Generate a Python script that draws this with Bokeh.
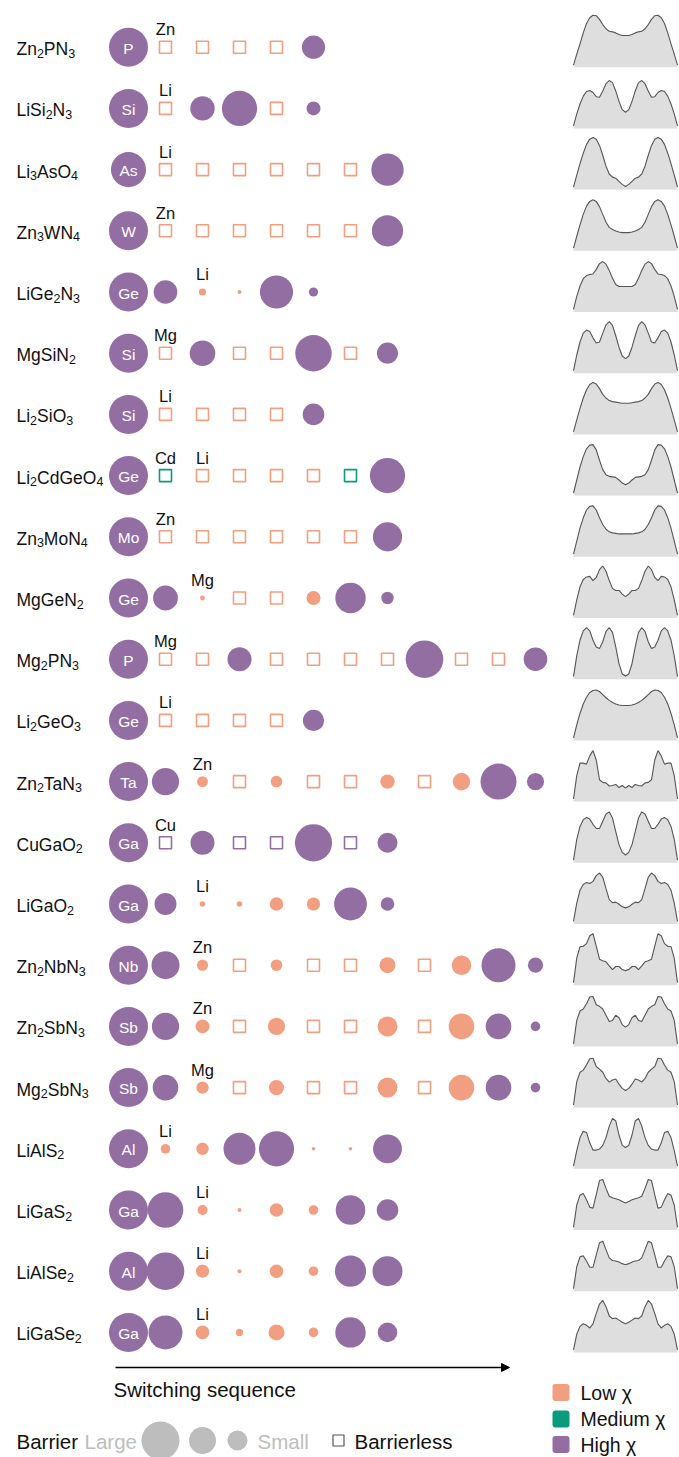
import re

from bokeh.plotting import figure
from bokeh.models import Range1d, Arrow, NormalHead
from bokeh.core.properties import value
from bokeh.embed import file_html
from bokeh.resources import INLINE

# ---------------------------------------------------------------- data
compounds = ["Zn2PN3", "LiSi2N3", "Li3AsO4", "Zn3WN4", "LiGe2N3", "MgSiN2",
             "Li2SiO3", "Li2CdGeO4", "Zn3MoN4", "MgGeN2", "Mg2PN3", "Li2GeO3",
             "Zn2TaN3", "CuGaO2", "LiGaO2", "Zn2NbN3", "Zn2SbN3", "Mg2SbN3",
             "LiAlS2", "LiGaS2", "LiAlSe2", "LiGaSe2"]
centers = ["P", "Si", "As", "W", "Ge", "Si", "Si", "Ge", "Mo", "Ge", "P", "Ge",
           "Ta", "Ga", "Ga", "Nb", "Sb", "Sb", "Al", "Ga", "Al", "Ga"]
center_scale = [1.0, 1.0, 0.9, 1.0, 1.0, 1.0, 1.0, 1.0, 1.0, 1.0, 1.0, 1.0,
                1.0, 1.0, 1.0, 1.0, 1.0, 1.0, 1.0, 1.0, 1.0, 1.0]

# electronegativity class of each switching step: L = low, M = medium, H = high
chi = ["LLLLH", "LHHLH", "LLLLLLH", "LLLLLLH", "HLLHH", "LHLLHLH", "LLLLH",
       "MLLLLMH", "LLLLLLH", "HLLLLHH", "LLHLLLLHLLH", "LLLLH",
       "HLLLLLLLLHH", "HHHHHHH", "HLLLLHH", "HLLLLLLLLHH", "HLLLLLLLLHH",
       "HLLLLLLLLHH", "LLHHLLH", "HLLLLHH", "HLLLLHH", "HLLLLHH"]
# barrier of each step (0 = barrierless)
barrier = [
    [0, 0, 0, 0, 0.58],
    [0, 0.61, 0.88, 0, 0.35],
    [0, 0, 0, 0, 0, 0, 0.81],
    [0, 0, 0, 0, 0, 0, 0.78],
    [0.59, 0.18, 0.10, 0.83, 0.23],
    [0, 0.64, 0, 0, 0.91, 0, 0.53],
    [0, 0, 0, 0, 0.54],
    [0, 0, 0, 0, 0, 0, 0.88],
    [0, 0, 0, 0, 0, 0, 0.73],
    [0.62, 0.12, 0, 0, 0.35, 0.76, 0.31],
    [0, 0, 0.60, 0, 0, 0, 0, 0.94, 0, 0, 0.59],
    [0, 0, 0, 0, 0.53],
    [0.68, 0.27, 0, 0.29, 0, 0, 0.36, 0, 0.44, 0.90, 0.43],
    [0, 0.60, 0, 0, 0.93, 0, 0.50],
    [0.55, 0.14, 0.14, 0.34, 0.33, 0.82, 0.34],
    [0.70, 0.28, 0, 0.29, 0, 0, 0.40, 0, 0.49, 0.85, 0.38],
    [0.68, 0.35, 0, 0.43, 0, 0, 0.50, 0, 0.64, 0.64, 0.24],
    [0.64, 0.31, 0, 0.38, 0, 0, 0.50, 0, 0.64, 0.64, 0.24],
    [0.24, 0.31, 0.80, 0.88, 0.09, 0.09, 0.72],
    [0.89, 0.25, 0.10, 0.34, 0.24, 0.74, 0.54],
    [0.94, 0.33, 0.10, 0.34, 0.24, 0.78, 0.75],
    [0.85, 0.34, 0.18, 0.40, 0.24, 0.76, 0.49],
]
# first switching step of each cation species
label_row = [0, 1, 2, 3, 4, 5, 6, 7, 7, 8, 9, 10, 11, 12, 13, 14, 15, 16, 17,
             18, 19, 20, 21]
label_step = [1, 1, 1, 1, 2, 1, 1, 1, 2, 1, 2, 1, 1, 2, 1, 2, 2, 2, 2, 1, 2,
              2, 2]
label_text = ["Zn", "Li", "Li", "Zn", "Li", "Mg", "Li", "Cd", "Li", "Zn", "Mg",
              "Mg", "Li", "Zn", "Cu", "Li", "Zn", "Zn", "Mg", "Li", "Li", "Li",
              "Li"]

# energy profile along the switching path (relative height)
profiles = [
    [0.04, 0.25, 0.45, 0.66, 0.84, 0.95, 1.0, 0.99, 0.92, 0.82, 0.74, 0.69, 0.68, 0.66, 0.63, 0.61, 0.61, 0.61, 0.63, 0.66, 0.68, 0.69, 0.74, 0.82, 0.92, 0.99, 1.0, 0.95, 0.84, 0.66, 0.45, 0.25, 0.04],
    [0.05, 0.28, 0.47, 0.62, 0.71, 0.73, 0.69, 0.61, 0.60, 0.72, 0.86, 0.92, 0.88, 0.72, 0.52, 0.36, 0.31, 0.36, 0.52, 0.72, 0.88, 0.92, 0.86, 0.72, 0.60, 0.61, 0.69, 0.73, 0.71, 0.62, 0.47, 0.28, 0.05],
    [0.05, 0.28, 0.50, 0.70, 0.87, 0.97, 1.0, 0.97, 0.85, 0.66, 0.45, 0.30, 0.24, 0.22, 0.16, 0.10, 0.06, 0.10, 0.16, 0.22, 0.24, 0.30, 0.45, 0.66, 0.85, 0.97, 1.0, 0.97, 0.87, 0.70, 0.50, 0.28, 0.05],
    [0.05, 0.28, 0.50, 0.70, 0.86, 0.95, 0.98, 0.95, 0.85, 0.70, 0.55, 0.45, 0.41, 0.38, 0.36, 0.35, 0.35, 0.35, 0.36, 0.38, 0.41, 0.45, 0.55, 0.70, 0.85, 0.95, 0.98, 0.95, 0.86, 0.70, 0.50, 0.28, 0.05],
    [0.05, 0.30, 0.50, 0.64, 0.70, 0.72, 0.73, 0.82, 0.93, 0.97, 0.92, 0.80, 0.65, 0.53, 0.49, 0.49, 0.49, 0.49, 0.49, 0.53, 0.65, 0.80, 0.92, 0.97, 0.93, 0.82, 0.73, 0.72, 0.70, 0.64, 0.50, 0.30, 0.05],
    [0.05, 0.35, 0.60, 0.77, 0.83, 0.80, 0.68, 0.58, 0.60, 0.77, 0.93, 0.99, 0.92, 0.72, 0.50, 0.33, 0.28, 0.33, 0.50, 0.72, 0.92, 0.99, 0.93, 0.77, 0.60, 0.58, 0.68, 0.80, 0.83, 0.77, 0.60, 0.35, 0.05],
    [0.05, 0.28, 0.50, 0.70, 0.86, 0.96, 1.0, 0.97, 0.88, 0.77, 0.70, 0.65, 0.63, 0.62, 0.61, 0.60, 0.60, 0.60, 0.61, 0.62, 0.63, 0.65, 0.70, 0.77, 0.88, 0.97, 1.0, 0.96, 0.86, 0.70, 0.50, 0.28, 0.05],
    [0.05, 0.30, 0.55, 0.75, 0.90, 0.97, 0.98, 0.88, 0.68, 0.50, 0.40, 0.37, 0.36, 0.35, 0.30, 0.24, 0.21, 0.24, 0.30, 0.35, 0.36, 0.37, 0.40, 0.50, 0.68, 0.88, 0.98, 0.97, 0.90, 0.75, 0.55, 0.30, 0.05],
    [0.05, 0.30, 0.55, 0.75, 0.90, 0.97, 0.98, 0.90, 0.75, 0.62, 0.53, 0.48, 0.46, 0.45, 0.44, 0.44, 0.44, 0.44, 0.44, 0.45, 0.46, 0.48, 0.53, 0.62, 0.75, 0.90, 0.98, 0.97, 0.90, 0.75, 0.55, 0.30, 0.05],
    [0.05, 0.35, 0.60, 0.74, 0.79, 0.80, 0.72, 0.78, 0.93, 1.0, 0.90, 0.72, 0.57, 0.53, 0.53, 0.46, 0.41, 0.46, 0.53, 0.53, 0.57, 0.72, 0.90, 1.0, 0.93, 0.78, 0.72, 0.80, 0.79, 0.74, 0.60, 0.35, 0.05],
    [0.05, 0.45, 0.75, 0.93, 0.99, 0.93, 0.75, 0.62, 0.59, 0.72, 0.92, 0.99, 0.90, 0.62, 0.30, 0.10, 0.06, 0.10, 0.30, 0.62, 0.90, 0.99, 0.92, 0.72, 0.59, 0.62, 0.75, 0.93, 0.99, 0.93, 0.75, 0.45, 0.05],
    [0.05, 0.30, 0.52, 0.70, 0.83, 0.92, 0.96, 0.97, 0.94, 0.88, 0.82, 0.77, 0.73, 0.70, 0.68, 0.67, 0.67, 0.67, 0.68, 0.70, 0.73, 0.77, 0.82, 0.88, 0.94, 0.97, 0.96, 0.92, 0.83, 0.70, 0.52, 0.30, 0.05],
    [0.05, 0.50, 0.74, 0.74, 0.72, 0.88, 0.98, 0.80, 0.42, 0.37, 0.36, 0.30, 0.31, 0.33, 0.27, 0.31, 0.26, 0.31, 0.27, 0.33, 0.31, 0.30, 0.36, 0.37, 0.42, 0.80, 0.98, 0.88, 0.72, 0.74, 0.74, 0.50, 0.05],
    [0.05, 0.45, 0.70, 0.83, 0.87, 0.84, 0.74, 0.66, 0.66, 0.80, 0.94, 0.98, 0.86, 0.60, 0.35, 0.20, 0.15, 0.20, 0.35, 0.60, 0.86, 0.98, 0.94, 0.80, 0.66, 0.66, 0.74, 0.84, 0.87, 0.83, 0.70, 0.45, 0.05],
    [0.05, 0.40, 0.65, 0.76, 0.80, 0.78, 0.82, 0.93, 0.98, 0.90, 0.68, 0.47, 0.41, 0.42, 0.38, 0.33, 0.31, 0.33, 0.38, 0.42, 0.41, 0.47, 0.68, 0.90, 0.98, 0.93, 0.82, 0.78, 0.80, 0.76, 0.65, 0.40, 0.05],
    [0.05, 0.52, 0.74, 0.75, 0.80, 0.95, 0.99, 0.75, 0.50, 0.47, 0.45, 0.37, 0.30, 0.36, 0.36, 0.30, 0.28, 0.30, 0.36, 0.36, 0.30, 0.37, 0.45, 0.47, 0.50, 0.75, 0.99, 0.95, 0.80, 0.75, 0.74, 0.52, 0.05],
    [0.05, 0.50, 0.68, 0.72, 0.82, 0.95, 0.96, 0.80, 0.77, 0.72, 0.60, 0.48, 0.50, 0.60, 0.55, 0.42, 0.37, 0.42, 0.55, 0.60, 0.50, 0.48, 0.60, 0.72, 0.77, 0.80, 0.96, 0.95, 0.82, 0.72, 0.68, 0.50, 0.05],
    [0.05, 0.50, 0.68, 0.72, 0.82, 0.94, 0.95, 0.79, 0.74, 0.68, 0.56, 0.49, 0.53, 0.55, 0.45, 0.37, 0.33, 0.37, 0.45, 0.55, 0.53, 0.49, 0.56, 0.68, 0.74, 0.79, 0.95, 0.94, 0.82, 0.72, 0.68, 0.50, 0.05],
    [0.05, 0.35, 0.60, 0.72, 0.70, 0.50, 0.36, 0.36, 0.38, 0.45, 0.60, 0.82, 0.97, 0.92, 0.65, 0.45, 0.41, 0.45, 0.65, 0.92, 0.97, 0.82, 0.60, 0.45, 0.38, 0.36, 0.36, 0.50, 0.70, 0.72, 0.60, 0.35, 0.05],
    [0.05, 0.48, 0.67, 0.70, 0.58, 0.44, 0.42, 0.68, 0.95, 0.97, 0.80, 0.65, 0.62, 0.60, 0.58, 0.55, 0.52, 0.55, 0.58, 0.60, 0.62, 0.65, 0.80, 0.97, 0.95, 0.68, 0.42, 0.44, 0.58, 0.70, 0.67, 0.48, 0.05],
    [0.05, 0.47, 0.66, 0.68, 0.58, 0.46, 0.46, 0.70, 0.93, 0.96, 0.80, 0.64, 0.59, 0.58, 0.56, 0.53, 0.51, 0.53, 0.56, 0.58, 0.59, 0.64, 0.80, 0.96, 0.93, 0.70, 0.46, 0.46, 0.58, 0.68, 0.66, 0.47, 0.05],
    [0.05, 0.35, 0.50, 0.55, 0.52, 0.47, 0.55, 0.75, 0.93, 1.0, 0.88, 0.70, 0.65, 0.66, 0.62, 0.58, 0.55, 0.58, 0.62, 0.66, 0.65, 0.70, 0.88, 1.0, 0.93, 0.75, 0.55, 0.47, 0.52, 0.55, 0.50, 0.35, 0.05],
]

legend_labels = ["Low χ", "Medium χ", "High χ"]

# ---------------------------------------------------------------- layout
W, H = 679, 1457
X0_PX, STEP_PX = 128.0, 37.0     # central atom column and step spacing
Y0_PX, ROW_PX = 46.7, 61.2       # first row and row spacing
COLORS = {"L": "#F29E80", "M": "#0A9B7C", "H": "#936EA3"}
FONT = value("Liberation Sans")
BARRIER_PX = 40.0                # marker diameter per unit barrier
PROF_LEFT, PROF_RIGHT = 573.0, 677.0
PROF_BASE, PROF_HEIGHT = 20.0, 52.0
NAME_PX, SUB_PX = 17.5, 12.5     # formula font and subscript font sizes
KEY_PX = "20.5px"                # key and caption font size

# advance widths of Liberation Sans (1/1000 em), used to set formula subscripts
ADVANCE = {"A": 667, "C": 722, "G": 778, "L": 556, "M": 833, "N": 722,
           "O": 778, "P": 667, "S": 667, "T": 611, "W": 944, "Z": 611,
           "a": 556, "b": 556, "d": 556, "e": 556, "g": 556, "i": 222,
           "l": 222, "n": 556, "o": 556, "s": 500, "u": 556}
KERN = {"Ta": -111}


def dx(px):
    return (px - X0_PX) / STEP_PX


def dy(px):
    return (px - Y0_PX) / ROW_PX


def advance(s, size):
    w = sum(ADVANCE.get(c, 556) for c in s)
    w += sum(KERN.get(s[i:i + 2], 0) for i in range(len(s) - 1))
    return w / 1000.0 * size


p = figure(width=W, height=H, output_backend="svg", toolbar_location=None,
           x_range=Range1d(dx(0), dx(W)), y_range=Range1d(dy(H), dy(0)),
           x_axis_location=None, y_axis_location=None, min_border=0,
           outline_line_color=None, background_fill_color="white",
           border_fill_color="white")
p.grid.visible = False

# compound formulas, digits set as subscripts
main = dict(x=[], y=[], text=[])
sub = dict(x=[], y=[], text=[])
for r, name in enumerate(compounds):
    xpx = 16.0
    for part in re.findall(r"[A-Za-z]+|\d+", name):
        if part.isdigit():
            sub["x"].append(dx(xpx)); sub["y"].append(r + 6.0 / ROW_PX)
            sub["text"].append(part)
            xpx += advance(part, SUB_PX)
        else:
            main["x"].append(dx(xpx)); main["y"].append(r + 2.0 / ROW_PX)
            main["text"].append(part)
            xpx += advance(part, NAME_PX)
p.text(x=main["x"], y=main["y"], text=main["text"], text_font=FONT,
       text_font_size=f"{NAME_PX}px", text_color="#111111",
       text_align="left", text_baseline="alphabetic")
p.text(x=sub["x"], y=sub["y"], text=sub["text"], text_font=FONT,
       text_font_size=f"{SUB_PX}px", text_color="#111111",
       text_align="left", text_baseline="alphabetic")

# central atoms
rows = list(range(len(compounds)))
p.scatter(x=[0] * len(rows), y=rows, size=[39 * s for s in center_scale],
          marker="circle", fill_color=COLORS["H"], line_color=None)
p.text(x=[0] * len(rows), y=[r + 1 / ROW_PX for r in rows], text=centers,
       text_font=FONT, text_font_size="15.5px", text_color="white",
       text_align="center", text_baseline="middle")

# switching steps
cx, cy, csize, ccol = [], [], [], []
sx, sy, scol = [], [], []
for r, (classes, bars) in enumerate(zip(chi, barrier)):
    for i, (c, b) in enumerate(zip(classes, bars), start=1):
        if b == 0:
            sx.append(i); sy.append(r); scol.append(COLORS[c])
        else:
            cx.append(i); cy.append(r); csize.append(b * BARRIER_PX)
            ccol.append(COLORS[c])
p.scatter(x=sx, y=sy, marker="square", size=12, fill_color="white",
          line_color=scol, line_width=1.6)
p.scatter(x=cx, y=cy, marker="circle", size=csize, fill_color=ccol,
          line_color=None)

# species labels above their first step
p.text(x=label_step, y=[r - 18.0 / ROW_PX for r in label_row], text=label_text,
       text_font=FONT, text_font_size="16.5px", text_color="#111111",
       text_align="center", text_baseline="middle")

# energy profiles
n = len(profiles[0])
px_span = PROF_RIGHT - PROF_LEFT
for r, prof in enumerate(profiles):
    xs = [dx(PROF_LEFT + px_span * k / (n - 1)) for k in range(n)]
    base = r + PROF_BASE / ROW_PX
    ys = [r + (PROF_BASE - PROF_HEIGHT * v) / ROW_PX for v in prof]
    p.varea(x=xs, y1=[base] * n, y2=ys, fill_color="#DEDEDE")
    p.line(x=xs, y=ys, line_color="#555555", line_width=1.1)

# sequence arrow
p.add_layout(Arrow(end=NormalHead(size=8, fill_color="black",
                                  line_color="black"),
                   x_start=dx(115), y_start=dy(1367), x_end=dx(509),
                   y_end=dy(1367), line_color="black", line_width=1.5))
p.text(x=[dx(113)], y=[dy(1389)], text=["Switching sequence"], text_font=FONT,
       text_font_size=KEY_PX, text_color="#111111", text_align="left",
       text_baseline="middle")

# barrier size key
GREY = "#BDBDBD"
p.text(x=[dx(16)], y=[dy(1441)], text=["Barrier"], text_font=FONT,
       text_font_size=KEY_PX, text_color="#111111", text_align="left",
       text_baseline="middle")
p.text(x=[dx(84), dx(257)], y=[dy(1441)] * 2, text=["Large", "Small"],
       text_font=FONT, text_font_size=KEY_PX, text_color=GREY,
       text_align="left", text_baseline="middle")
p.scatter(x=[dx(160), dx(202), dx(237)], y=[dy(1440)] * 3, size=[38, 27, 20],
          marker="circle", fill_color=GREY, line_color=None)
p.scatter(x=[dx(338)], y=[dy(1440)], marker="square", size=11,
          fill_color="white", line_color="#555555", line_width=1.2)
p.text(x=[dx(354)], y=[dy(1441)], text=["Barrierless"], text_font=FONT,
       text_font_size=KEY_PX, text_color="#111111", text_align="left",
       text_baseline="middle")

# electronegativity colour key
key_y = [1392, 1418.5, 1444]
p.quad(left=[dx(552)] * 3, right=[dx(569)] * 3,
       top=[dy(v - 8.5) for v in key_y], bottom=[dy(v + 8.5) for v in key_y],
       fill_color=[COLORS["L"], COLORS["M"], COLORS["H"]], line_color=None,
       border_radius=3)
p.text(x=[dx(580)] * 3, y=[dy(v) for v in key_y], text=legend_labels,
       text_font=FONT, text_font_size="19.5px", text_color="#111111",
       text_align="left", text_baseline="middle")

open("out.html", "w").write(file_html(p, INLINE))
